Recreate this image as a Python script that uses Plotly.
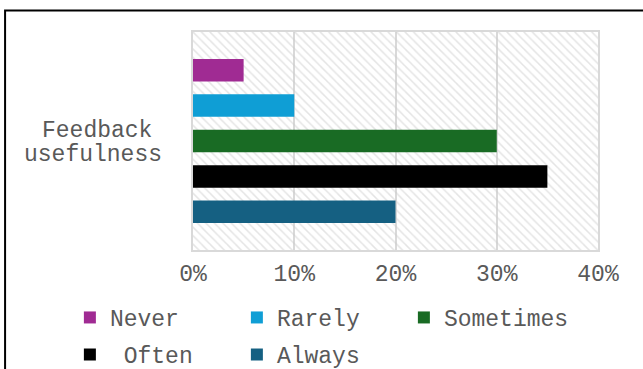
import plotly.graph_objects as go

# Survey responses for a single question, share of respondents (%)
category_lines = ["Feedback", "usefulness"]
category = "<br>".join(category_lines)
responses = ["Never", "Rarely", "Sometimes", "\u00a0Often", "Always"]
shares = [5, 10, 30, 35, 20]
colors = ["#A02B93", "#0F9ED5", "#196B24", "#000000", "#156082"]
legend_rows = ["legend", "legend", "legend", "legend2", "legend2"]
tick_values = [0, 10, 20, 30, 40]
tick_labels = ["0%", "10%", "20%", "30%", "40%"]

FONT = "Liberation Mono, Courier New, monospace"
TEXT_GRAY = "#595959"
GRID_GRAY = "#d9d9d9"

fig = go.Figure()

# Diagonal hatching behind the plot area (base axes, fixed 0..1 frame)
fig.add_trace(go.Scatter(
    x=[0, 1, 1, 0, 0], y=[0, 0, 1, 1, 0],
    mode="lines", line=dict(width=0),
    fill="toself", fillcolor="rgba(0,0,0,0)",
    fillpattern=dict(shape="\\", fgcolor="#c9c9c9", bgcolor="rgba(0,0,0,0)",
                     size=6, solidity=0.25),
    hoverinfo="skip", showlegend=False,
    xaxis="x", yaxis="y",
))

# One horizontal bar per response, grouped on the single category
for name, value, color, leg in zip(responses, shares, colors, legend_rows):
    fig.add_trace(go.Bar(
        name=name, x=[value], y=[category], orientation="h",
        marker=dict(color=color, line=dict(width=0)),
        xaxis="x2", yaxis="y2", legend=leg,
    ))

legend_style = dict(
    orientation="h", xanchor="left", yanchor="top",
    entrywidth=122, entrywidthmode="pixels",
    font=dict(family=FONT, size=23, color=TEXT_GRAY),
    bgcolor="rgba(0,0,0,0)", traceorder="normal",
)

fig.update_layout(
    width=643, height=369,
    margin=dict(l=193, r=45, t=32, b=119, autoexpand=False),
    paper_bgcolor="white", plot_bgcolor="white",
    font=dict(family=FONT, size=23, color=TEXT_GRAY),
    barmode="group", bargap=0.188, bargroupgap=0.364,
    xaxis=dict(range=[0, 1], visible=False, fixedrange=True),
    yaxis=dict(range=[0, 1], visible=False, fixedrange=True),
    xaxis2=dict(
        overlaying="x", side="bottom", range=[0, 40],
        tickvals=tick_values, ticktext=tick_labels,
        showgrid=True, gridcolor=GRID_GRAY, gridwidth=1.5,
        zeroline=False, showline=True, linecolor=GRID_GRAY, linewidth=1.5,
        mirror=True, ticks="", ticklabelstandoff=2,
        tickfont=dict(family=FONT, size=23, color=TEXT_GRAY),
    ),
    yaxis2=dict(
        overlaying="y", side="left", autorange="reversed",
        showticklabels=False, showgrid=False, zeroline=False,
        showline=True, linecolor=GRID_GRAY, linewidth=1.5, mirror=True,
        ticks="",
    ),
    legend=dict(legend_style, x=-0.304, y=-0.211),
    legend2=dict(legend_style, x=-0.304, y=-0.381),
    showlegend=True,
)

# Category label, centred on two lines to the left of the bars
for line_text, y_pos, x_pos in zip(category_lines, [0.547, 0.437], [-0.237, -0.247]):
    fig.add_annotation(
        text=line_text, xref="paper", yref="paper", x=x_pos, y=y_pos,
        xanchor="center", yanchor="middle", showarrow=False, align="center",
        font=dict(family=FONT, size=23, color=TEXT_GRAY),
    )

# Black frame around the chart, open past the right and bottom edges
fig.add_shape(
    type="rect", xref="paper", yref="paper",
    x0=-0.464, x1=1.2, y0=-0.7, y1=1.0986,
    line=dict(color="black", width=2), fillcolor="rgba(0,0,0,0)",
    layer="above",
)

fig.write_html("out.html")
